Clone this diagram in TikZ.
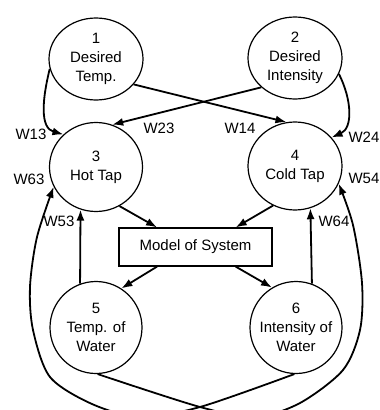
\documentclass[tikz,border=0pt]{standalone}
\usepackage{fontspec}
\setmainfont{Liberation Sans}
\usetikzlibrary{arrows.meta,shapes.geometric}
\tikzset{
  lbl/.style={font=\fontsize{15}{19}\selectfont, align=center, inner sep=0pt},
  circ/.style 2 args={draw, ellipse, inner sep=0pt, line width=1.2pt, minimum width=#1, minimum height=#2},
  wt/.style={font=\fontsize{15}{18}\selectfont, inner sep=0pt},
  conn/.style={line width=1.8pt, -{Latex[length=11pt,width=8pt]}},
  boxst/.style={draw, line width=1.2pt, minimum width=153pt, minimum height=38pt, inner sep=0pt, font=\fontsize{15}{18}\selectfont},
}
\begin{document}
\begin{tikzpicture}[x=1pt,y=-1pt]
\clip (0,0) rectangle (380,410);
% concept nodes
\node[circ={94pt}{82pt}, label={[lbl]center:{1\\Desired\\Temp.}}] (c1) at (96,59) {};
\node[circ={94pt}{82pt}, label={[lbl]center:{2\\Desired\\Intensity}}] (c2) at (295,58) {};
\node[circ={93pt}{89pt}, label={[lbl]center:{3\\Hot Tap}}] (c3) at (96,167) {};
\node[circ={94pt}{88pt}, label={[lbl]center:{4\\Cold Tap}}] (c4) at (295,166) {};
\node[circ={92pt}{92pt}, label={[lbl]center:{5\\Temp. of\\Water}}] (c5) at (96,327.5) {};
\node[circ={92pt}{92pt}, label={[lbl]center:{6\\Intensity of\\Water}}] (c6) at (296,327.5) {};
\node[boxst] (m) at (195.5,247) {Model of System};
% connectors
\draw[conn] (c1.-34) -- (c4.101);
\draw[conn] (c2.221) -- (c3.69);
\draw[conn] (c1.192) .. controls (42,100) and (40,128) .. (c3.135);
\draw[conn] (c2.-20) .. controls (352,100) and (353,128) .. (c4.38);
\draw[conn] (c3.-59) -- (m.153.7);
\draw[conn] (c4.241) -- (m.26.3);
\draw[conn] (m.-153.7) -- (c5.57);
\draw[conn] (m.-26.3) -- (c6.121);
\draw[conn] (c5.110) -- (c3.-110);
\draw[conn] (c6.70) -- (c4.-70);
\draw[conn] plot[smooth] coordinates {(c5.-88) (200,407) (255,417) (300,403) (343,370) (360,330) (362,283) (353,225) (c4.-22)};
\draw[conn] plot[smooth] coordinates {(c6.-92) (200,407) (140,417) (92,404) (50,377) (33,330) (30,287) (37,237) (c3.205)};
% weight labels
\node[wt] (w13) at (31,134) {W13};
\node[wt] (w23) at (159,128) {W23};
\node[wt] (w14) at (240,128) {W14};
\node[wt] (w24) at (364,137) {W24};
\node[wt] (w63) at (29,179) {W63};
\node[wt] (w54) at (364,178) {W54};
\node[wt] (w53) at (59,221) {W53};
\node[wt] (w64) at (334,221) {W64};
\end{tikzpicture}
\end{document}
